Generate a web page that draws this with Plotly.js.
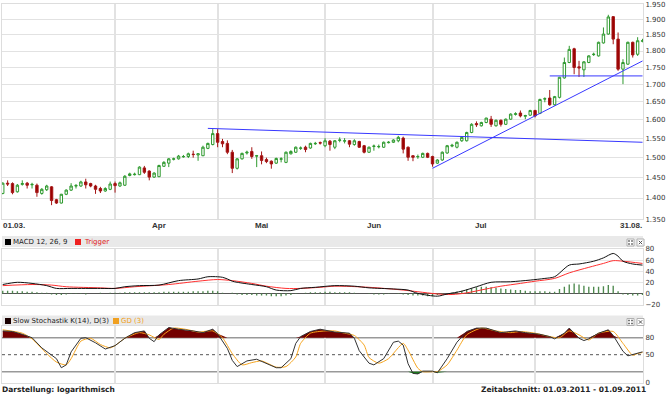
<!DOCTYPE html>
<html>
<head>
<meta charset="utf-8">
<script src="https://cdn.plot.ly/plotly-3.0.1.min.js"></script>
<style>
html,body{margin:0;padding:0;background:#fff;}
#chart{width:670px;height:394px;}
</style>
</head>
<body>
<div id="chart"></div>
<script>
// ---------- DATA ----------
// trading days (weekdays) 01.03.2011 - 31.08.2011
const dates = [];
(function(){
  const d = new Date(Date.UTC(2011,2,1));
  const end = new Date(Date.UTC(2011,7,31));
  while (d <= end) {
    const wd = d.getUTCDay();
    if (wd !== 0 && wd !== 6) dates.push(d.toISOString().slice(0,10));
    d.setUTCDate(d.getUTCDate()+1);
  }
})();

const openP = [1.411,1.436,1.435,1.415,1.433,1.436,1.432,1.431,1.411,1.420,
1.427,1.396,1.388,1.409,1.419,1.429,1.429,1.439,1.435,1.429,
1.423,1.417,1.421,1.435,1.429,1.431,1.455,1.457,1.457,1.474,
1.466,1.451,1.452,1.478,1.486,1.496,1.497,1.502,1.503,1.509,
1.507,1.505,1.524,1.534,1.563,1.542,1.537,1.514,1.473,1.497,
1.512,1.516,1.504,1.505,1.495,1.491,1.486,1.496,1.488,1.510,
1.514,1.524,1.527,1.525,1.536,1.539,1.531,1.543,1.527,1.545,
1.543,1.544,1.534,1.542,1.531,1.514,1.529,1.528,1.527,1.539,
1.540,1.544,1.551,1.527,1.505,1.502,1.501,1.511,1.503,1.486,
1.494,1.512,1.530,1.527,1.544,1.544,1.566,1.590,1.584,1.593,
1.602,1.584,1.599,1.588,1.602,1.615,1.619,1.610,1.613,1.626,
1.618,1.658,1.661,1.642,1.663,1.719,1.765,1.807,1.752,1.743,
1.765,1.789,1.785,1.825,1.853,1.909,1.837,1.745,1.760,1.827,
1.790,1.830];
const highP = [1.438,1.443,1.438,1.434,1.443,1.439,1.437,1.435,1.424,1.432,
1.429,1.398,1.410,1.421,1.436,1.434,1.442,1.447,1.437,1.432,
1.427,1.426,1.440,1.440,1.440,1.456,1.462,1.462,1.478,1.479,
1.468,1.463,1.482,1.491,1.499,1.500,1.507,1.507,1.513,1.518,
1.511,1.531,1.539,1.575,1.575,1.549,1.545,1.520,1.499,1.513,
1.518,1.527,1.507,1.516,1.500,1.493,1.500,1.501,1.516,1.519,
1.529,1.529,1.531,1.539,1.541,1.542,1.551,1.546,1.546,1.553,
1.551,1.546,1.548,1.544,1.533,1.529,1.534,1.534,1.542,1.543,
1.548,1.557,1.555,1.529,1.506,1.508,1.513,1.513,1.505,1.496,
1.516,1.533,1.536,1.542,1.556,1.568,1.591,1.596,1.595,1.606,
1.611,1.601,1.601,1.604,1.618,1.621,1.626,1.614,1.628,1.628,
1.659,1.663,1.684,1.667,1.722,1.780,1.816,1.810,1.770,1.769,
1.787,1.795,1.829,1.874,1.915,1.911,1.858,1.775,1.829,1.829,
1.843,1.838];
const lowP = [1.409,1.429,1.409,1.413,1.430,1.423,1.423,1.403,1.408,1.417,
1.383,1.386,1.387,1.407,1.417,1.423,1.427,1.423,1.426,1.410,
1.412,1.415,1.419,1.413,1.427,1.429,1.453,1.455,1.456,1.459,
1.443,1.449,1.451,1.477,1.476,1.493,1.495,1.500,1.499,1.500,
1.492,1.504,1.522,1.532,1.527,1.527,1.509,1.461,1.470,1.495,
1.508,1.497,1.476,1.483,1.486,1.472,1.484,1.488,1.486,1.508,
1.512,1.520,1.514,1.523,1.533,1.534,1.527,1.518,1.522,1.540,
1.537,1.527,1.531,1.525,1.511,1.512,1.518,1.524,1.525,1.537,
1.538,1.540,1.511,1.492,1.491,1.497,1.499,1.499,1.477,1.484,
1.492,1.510,1.527,1.524,1.541,1.542,1.564,1.581,1.582,1.591,
1.581,1.582,1.582,1.586,1.600,1.612,1.607,1.602,1.611,1.607,
1.616,1.649,1.639,1.640,1.660,1.717,1.763,1.730,1.722,1.722,
1.763,1.785,1.783,1.823,1.851,1.821,1.740,1.701,1.758,1.780,
1.785,1.827];
const closeP = [1.436,1.434,1.413,1.431,1.435,1.431,1.433,1.413,1.421,1.429,
1.394,1.388,1.409,1.419,1.429,1.430,1.439,1.432,1.429,1.421,
1.417,1.423,1.434,1.430,1.437,1.453,1.459,1.458,1.476,1.463,
1.451,1.461,1.480,1.488,1.497,1.497,1.504,1.503,1.510,1.508,
1.510,1.527,1.537,1.563,1.540,1.536,1.514,1.473,1.497,1.511,
1.514,1.503,1.505,1.493,1.490,1.484,1.498,1.497,1.514,1.516,
1.527,1.525,1.521,1.537,1.537,1.538,1.544,1.534,1.544,1.546,
1.544,1.535,1.544,1.527,1.514,1.527,1.530,1.529,1.540,1.540,
1.546,1.553,1.522,1.501,1.501,1.503,1.511,1.501,1.484,1.494,
1.514,1.531,1.532,1.540,1.553,1.566,1.588,1.587,1.593,1.605,
1.588,1.599,1.588,1.602,1.616,1.617,1.611,1.612,1.626,1.611,
1.657,1.659,1.642,1.665,1.721,1.765,1.805,1.750,1.749,1.767,
1.785,1.790,1.827,1.853,1.908,1.837,1.745,1.765,1.827,1.788,
1.832,1.832];

// trend lines
const trend1Dates = ['2011-04-28','2011-08-31'];
const trend1Vals  = [1.577, 1.540];
const trend2Dates = ['2011-07-01','2011-08-31'];
const trend2Vals  = [1.473, 1.7696];
const trend3Dates = ['2011-08-04','2011-08-31'];
const trend3Vals  = [1.725, 1.725];

// MACD (sampled at trading-day index)
const macdIdx = [0,3,6,9,11,14,20,23,25,28,32,36,40,42,44,45,46,47,48,51,54,56,59,61,64,68,72,75,80,83,85,89,91,94,97,100,104,108,111,113,116,118,121,123,125,126,127,129,131];
const macdVal = [16,20,18,14,9,9,9,9,12,14,15,23,26,30,30,29,26,22,20,16,12,6,5,9,11,14,13,10,8,6,0,-5,-1,4,12,20,21,24,27,30,51,53,58,64,72,67,58,53,51];
const trigIdx = [0,6,10,13,20,23,27,34,40,44,47,51,54,58,61,65,68,75,82,85,89,92,95,99,102,106,109,113,116,120,123,125,127,131];
const trigVal = [14,16,15,12,10,9,12,16,22,25,23,18,13,9,9,11,13,11,6,3,-1,-2,1,8,13,18,22,27,37,47,54,59,58,54];
const macdHist = [5,5,5,4,4,3,3,2,1,1,
-2,-3,-3,-2,-1,-1,-1,-2,0,0,
1,0,1,1,1,2,2,2,2,2,
2,2,2,3,3,3,3,3,3,4,
4,4,5,5,4,1,0,1,-2,-3,
-3,-3,-4,-4,-4,-5,-5,-5,-4,-3,
-1,0,1,2,2,2,3,3,2,2,
2,2,1,0,0,-1,-2,-2,-2,-1,
0,-1,-2,-3,-4,-4,-4,-5,-5,-3,
-2,0,1,3,5,7,9,11,12,12,
11,10,9,8,7,6,6,5,4,4,
4,4,3,3,8,12,16,18,16,14,
12,12,12,13,15,14,4,-2,-3,-4,
-4,-3];

// Slow stochastic
const kIdx = [0,2,4,6,8,10,11,12,13,14,16,17,19,21,23,25,27,29,30,31,32,34,36,39,41,43,44,46,47,48,50,52,54,56,57,59,60,61,63,65,68,71,72,73,75,76,78,80,81,82,83,84,85,86,88,89,91,93,95,97,99,101,102,105,107,110,112,113,115,116,117,118,119,120,122,124,125,126,127,128,130,131];
const kVal = [92,91,86,80,62,49,43,27,32,55,79,80,71,60,66,79,89,92,79,73,85,98,95,92,89,95,87,61,40,29,39,42,35,27,27,43,70,82,91,95,90,88,79,57,35,32,43,72,74,67,34,17,16,21,21,18,43,72,91,97,97,92,89,92,89,86,82,78,88,97,88,79,75,78,88,94,84,70,56,48,52,55];
const dIdx = [0,4,6,9,11,13,14,16,18,20,22,23,25,28,30,32,33,35,38,40,43,45,47,49,51,53,56,58,60,61,63,66,68,70,72,74,75,77,79,82,83,85,86,88,89,91,93,95,98,101,104,106,109,112,114,116,118,120,122,125,127,129,130,131];
const dVal = [94,88,78,52,37,32,43,74,79,68,62,66,79,89,85,77,86,97,94,90,92,80,52,32,36,39,28,29,46,70,88,92,92,88,84,67,45,35,43,70,58,26,20,20,20,32,58,85,97,92,89,91,88,82,80,92,85,76,88,91,70,49,52,54];
const stochLevels = [20, 50, 80];

const priceTicks = [1.35,1.40,1.45,1.50,1.55,1.60,1.65,1.70,1.75,1.80,1.85,1.90,1.95];
const macdTicks = [-20,0,20,40,60,80];
const stochTicks = [0,50,80];
const monthGrid = ['2011-04-01','2011-05-02','2011-06-01','2011-07-01','2011-08-01','2011-08-31'];
const monthLabels = ['01.03.','Apr','Mai','Jun','Jul','31.08.'];
const monthLabelDates = ['2011-03-01','2011-04-14','2011-05-13','2011-06-15','2011-07-15','2011-08-31'];

// ---------- LAYOUT HELPERS ----------
const W = 670, H = 394, L = 2, R = 27;
const PW = W - L - R;
const px = x => (x - L) / PW;
const py = y => (H - y) / H;
const FONT = 'DejaVu Sans, Verdana, sans-serif';

const traces = [];
traces.push({
  type:'candlestick', x: dates, open: openP, high: highP, low: lowP, close: closeP,
  xaxis:'x', yaxis:'y', hoverinfo:'skip', whiskerwidth:0,
  increasing:{line:{color:'#2f9a2f', width:1}, fillcolor:'#ffffff'},
  decreasing:{line:{color:'#a51616', width:1}, fillcolor:'#990000'}
});
[[trend1Dates,trend1Vals],[trend2Dates,trend2Vals],[trend3Dates,trend3Vals]].forEach(([xs,ys])=>{
  traces.push({type:'scatter', mode:'lines', x: xs, y: ys, xaxis:'x', yaxis:'y',
    line:{color:'#3838ff', width:1}, hoverinfo:'skip'});
});

// MACD panel
traces.push({type:'bar', x: dates, y: macdHist, xaxis:'x2', yaxis:'y2', width:0.28,
  marker:{color:'#4f8a4f', line:{width:0}}, hoverinfo:'skip'});
traces.push({type:'scatter', mode:'lines', x: trigIdx.map(i=>dates[i]), y: trigVal, xaxis:'x2', yaxis:'y2',
  line:{color:'#ff3030', width:1, shape:'spline', smoothing:0.8}, hoverinfo:'skip'});
traces.push({type:'scatter', mode:'lines', x: macdIdx.map(i=>dates[i]), y: macdVal, xaxis:'x2', yaxis:'y2',
  line:{color:'#111111', width:1, shape:'spline', smoothing:0.8}, hoverinfo:'skip'});

// Stochastic panel
const kDates = kIdx.map(i=>dates[i]);
traces.push({type:'scatter', mode:'lines', x: kDates, y: kVal.map(()=>stochLevels[2]), xaxis:'x3', yaxis:'y3',
  line:{width:0, color:'rgba(0,0,0,0)'}, hoverinfo:'skip'});
traces.push({type:'scatter', mode:'lines', x: kDates, y: kVal.map(v=>Math.max(v, stochLevels[2])), xaxis:'x3', yaxis:'y3',
  fill:'tonexty', fillcolor:'#730000', line:{width:0, color:'rgba(0,0,0,0)'}, hoverinfo:'skip'});
traces.push({type:'scatter', mode:'lines', x: kDates, y: kVal.map(()=>stochLevels[0]), xaxis:'x3', yaxis:'y3',
  line:{width:0, color:'rgba(0,0,0,0)'}, hoverinfo:'skip'});
traces.push({type:'scatter', mode:'lines', x: kDates, y: kVal.map(v=>Math.min(v, stochLevels[0])), xaxis:'x3', yaxis:'y3',
  fill:'tonexty', fillcolor:'#1b7a1b', line:{width:0, color:'rgba(0,0,0,0)'}, hoverinfo:'skip'});
traces.push({type:'scatter', mode:'lines', x: dIdx.map(i=>dates[i]), y: dVal, xaxis:'x3', yaxis:'y3',
  line:{color:'#f5a41e', width:1, shape:'spline', smoothing:0.6}, hoverinfo:'skip'});
traces.push({type:'scatter', mode:'lines', x: kDates, y: kVal, xaxis:'x3', yaxis:'y3',
  line:{color:'#333333', width:1}, hoverinfo:'skip'});

// axes
const xBase = (anchor) => ({
  type:'category', categoryorder:'array', categoryarray: dates,
  range:[-0.15, 131.1], tickvals: monthGrid, showticklabels:false, ticks:'',
  showgrid:true, gridcolor:'#e2e2e2', gridwidth:2, zeroline:false,
  showline:true, linecolor:'#dddddd', linewidth:1, mirror:true,
  rangeslider:{visible:false}, fixedrange:true, anchor: anchor
});
const tickFont = {family: FONT, size:7, color:'#333'};

const shapes = [];
const annotations = [];

// panel headers
function header(top, bottom) {
  shapes.push({type:'rect', xref:'paper', yref:'paper', x0:px(2), x1:px(643), y0:py(bottom), y1:py(top),
    fillcolor:'#e9e9e9', line:{width:0}, layer:'below'});
  // icon boxes
  [[627,634],[637,644]].forEach(([a,b])=>{
    shapes.push({type:'rect', xref:'paper', yref:'paper', x0:px(a), x1:px(b), y0:py(top+10), y1:py(top+3),
      fillcolor:'#ffffff', line:{color:'#b0b0b0', width:1}});
  });
  // four-dot glyph
  [[629,top+5],[632,top+5],[629,top+8],[632,top+8]].forEach(([a,b])=>{
    shapes.push({type:'rect', xref:'paper', yref:'paper', x0:px(a-0.8), x1:px(a+0.8), y0:py(b+0.8), y1:py(b-0.8),
      fillcolor:'#555555', line:{width:0}});
  });
  // cross glyph
  shapes.push({type:'line', xref:'paper', yref:'paper', x0:px(638.8), x1:px(642.2), y0:py(top+4.8), y1:py(top+8.2),
    line:{color:'#555555', width:1}});
  shapes.push({type:'line', xref:'paper', yref:'paper', x0:px(638.8), x1:px(642.2), y0:py(top+8.2), y1:py(top+4.8),
    line:{color:'#555555', width:1}});
}
header(236, 247);
header(315.5, 326);

function legendBox(x, y, color) {
  shapes.push({type:'rect', xref:'paper', yref:'paper', x0:px(x), x1:px(x+6), y0:py(y+3), y1:py(y-3),
    fillcolor:color, line:{width:0}});
}
function txt(x, y, s, opts) {
  annotations.push(Object.assign({xref:'paper', yref:'paper', x:px(x), y:py(y), text:s, showarrow:false,
    xanchor:'left', yanchor:'middle', borderpad:0, font:{family:FONT, size:7, color:'#222'}}, opts||{}));
}
legendBox(5, 242, '#000000');
txt(12, 242, 'MACD 12, 26, 9');
legendBox(75, 242, '#ee2020');
txt(83, 242, 'Trigger', {font:{family:FONT, size:7, color:'#e02020'}});
legendBox(5, 321, '#1a0000');
txt(12, 321, 'Slow Stochastik K(14), D(3)');
legendBox(113, 321, '#f0a020');
txt(120, 321, 'GD (3)', {font:{family:FONT, size:7, color:'#f0a020'}});

// month labels
monthLabels.forEach((m, i) => {
  const anchor = i === 0 ? 'left' : (i === monthLabels.length-1 ? 'right' : 'center');
  annotations.push({xref:'x', yref:'paper', x: monthLabelDates[i], y: py(225), text:'<b>'+m+'</b>',
    showarrow:false, xanchor: anchor, yanchor:'middle', borderpad:0,
    xshift: i === 0 ? -1 : 0,
    font:{family:'Liberation Sans, Arial, sans-serif', size:8, color:'#333'}});
});

// bottom texts
txt(1, 389.5, '<b>Darstellung: logarithmisch</b>', {font:{family:FONT, size:7.5, color:'#222'}});
txt(647, 389.5, '<b>Zeitabschnitt: 01.03.2011 - 01.09.2011</b>', {xanchor:'right', font:{family:FONT, size:7.5, color:'#222'}});

// stochastic level lines
stochLevels.forEach(v => {
  const mid = v === 50;
  shapes.push({type:'line', xref:'paper', yref:'y3', x0:0, x1:1, y0:v, y1:v,
    line:{color: mid ? '#555555' : '#999999', width: mid ? 1 : 1.5, dash: mid ? 'dot' : 'solid'}, layer:'below'});
});

const layout = {
  width: W, height: H,
  margin:{l:L, r:R, t:0, b:0, pad:0},
  paper_bgcolor:'#ffffff', plot_bgcolor:'#ffffff',
  showlegend:false, dragmode:false, hovermode:false,
  boxgap:0.3,
  xaxis: xBase('y'),
  xaxis2: xBase('y2'),
  xaxis3: xBase('y3'),
  yaxis:{type:'log', range:[Math.log10(1.35), Math.log10(1.95)], domain:[py(219.3), py(4.2)],
    side:'right', tickvals: priceTicks, tickformat:'.3f', ticks:'', tickfont: tickFont,
    showgrid:true, gridcolor:'#e2e2e2', gridwidth:1, zeroline:false,
    showline:true, linecolor:'#dddddd', mirror:true, fixedrange:true, anchor:'x'},
  yaxis2:{range:[-20, 80], domain:[py(304.5), py(249)], side:'right', tickvals: macdTicks,
    ticks:'', tickfont: tickFont, showgrid:true, gridcolor:'#e6e6e6', zeroline:true,
    zerolinecolor:'#555555', zerolinewidth:1, showline:true, linecolor:'#dddddd', mirror:true,
    fixedrange:true, anchor:'x2'},
  yaxis3:{range:[0, 100], domain:[py(383), py(326.4)], side:'right', tickvals: stochTicks,
    ticks:'', tickfont: tickFont, showgrid:false, zeroline:false,
    showline:true, linecolor:'#dddddd', mirror:true, fixedrange:true, anchor:'x3'},
  shapes: shapes,
  annotations: annotations
};

Plotly.newPlot('chart', traces, layout, {displayModeBar:false, staticPlot:true});
</script>
</body>
</html>
